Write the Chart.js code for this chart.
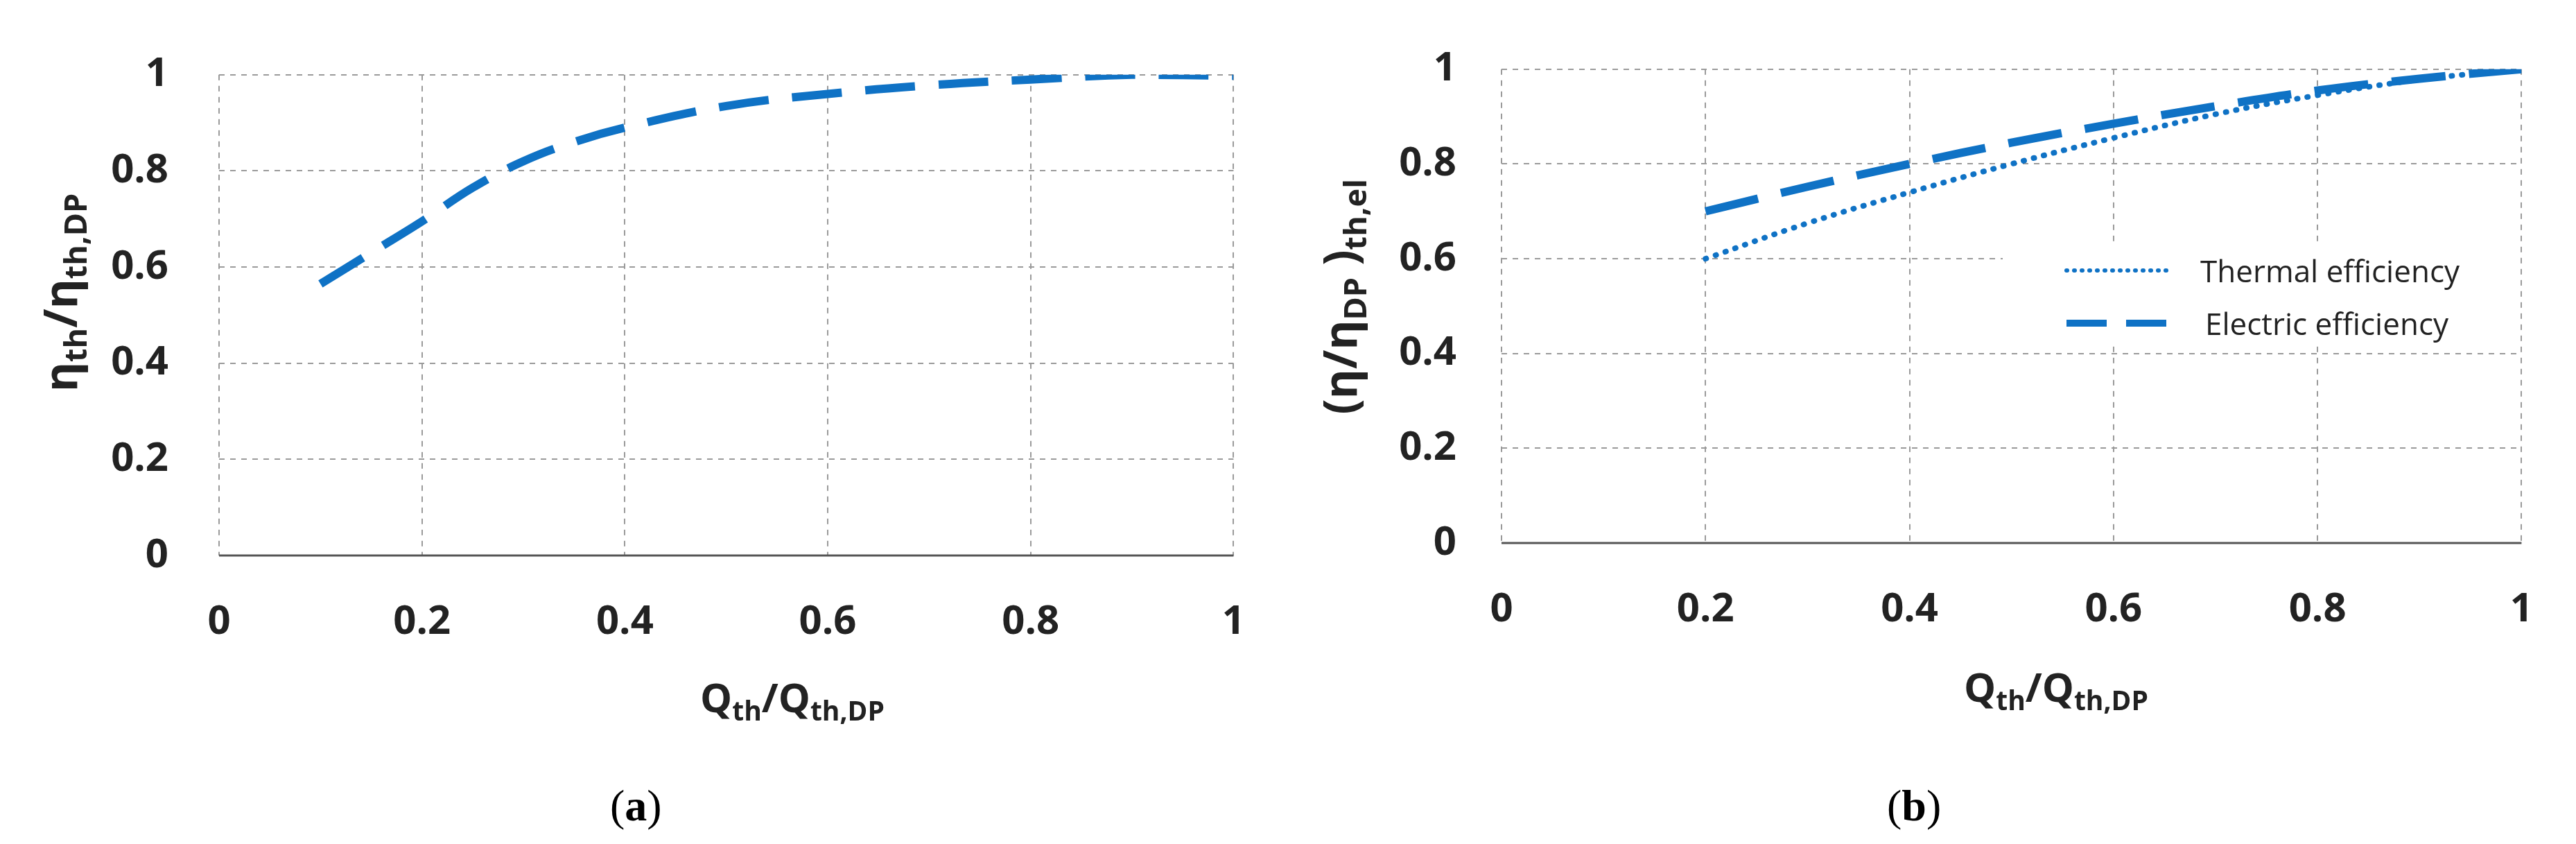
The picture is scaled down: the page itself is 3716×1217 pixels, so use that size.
<!DOCTYPE html>
<html>
<head>
<meta charset="utf-8">
<script src="https://cdn.jsdelivr.net/npm/chart.js@4.4.0/dist/chart.umd.min.js"></script>
<style>
  body { margin: 0; background: #fff; width: 3716px; height: 1217px; position: relative; overflow: hidden; }
  .box { position: absolute; top: 0; width: 1858px; height: 1217px; }
  .cap { position: absolute; top: 1125px; font-family: "Liberation Serif", serif; font-size: 64px; }
</style>
</head>
<body>
<div class="box" style="left:0"><canvas id="ca" width="1858" height="1217"></canvas></div>
<div class="box" style="left:1858px"><canvas id="cb" width="1858" height="1217"></canvas></div>
<div class="cap" style="left:880px">(<b>a</b>)</div>
<div class="cap" style="left:2722px">(<b>b</b>)</div>
<script>
// --- data ---
const xA = [0.1, 0.15, 0.2, 0.25, 0.3, 0.35, 0.4, 0.5, 0.6, 0.7, 0.8, 0.9, 1.0];
const etaA = [0.565, 0.63, 0.695, 0.765, 0.82, 0.86, 0.89, 0.935, 0.96, 0.978, 0.99, 1.0, 0.998];

const xB = [0.2, 0.3, 0.4, 0.5, 0.6, 0.7, 0.8, 0.9, 1.0];
const thermalB = [0.6, 0.675, 0.74, 0.8, 0.855, 0.905, 0.945, 0.978, 1.0];
const electricB = [0.70, 0.752, 0.80, 0.845, 0.885, 0.922, 0.955, 0.98, 1.0];

const ticks = [0, 0.2, 0.4, 0.6, 0.8, 1];
const BLUE = '#0f72c5';
const TICK_FONT = { family: 'Open Sans', weight: 'bold', size: 58 };

// draw text with subscripts: parts = [[text, isSub], ...]
function richText(ctx, parts, cx, cy, size, rotate) {
  ctx.save();
  ctx.translate(cx, cy);
  if (rotate) ctx.rotate(-Math.PI / 2);
  const fontFor = sub => `bold ${sub ? Math.round(size * 0.68) : size}px "Open Sans"`;
  let total = 0;
  parts.forEach(([t, sub]) => { ctx.font = fontFor(sub); total += ctx.measureText(t).width; });
  let x = -total / 2;
  ctx.fillStyle = '#222';
  ctx.textBaseline = 'middle';
  parts.forEach(([t, sub]) => {
    ctx.font = fontFor(sub);
    ctx.fillText(t, x, sub ? size * 0.3 : 0);
    x += ctx.measureText(t).width;
  });
  ctx.restore();
}

function scales(yW, xH, yPad) {
  return {
    x: {
      type: 'linear', min: 0, max: 1,
      afterBuildTicks: s => { s.ticks = ticks.map(v => ({ value: v })); },
      afterFit: s => { s.height = xH; },
      ticks: { font: TICK_FONT, color: '#222', padding: 62, callback: v => String(v) },
      grid: { color: '#9a9a9a', lineWidth: 2, drawTicks: false },
      border: { display: false, dash: [8, 8] }
    },
    y: {
      min: 0, max: 1,
      afterBuildTicks: s => { s.ticks = ticks.map(v => ({ value: v })); },
      afterFit: s => { s.width = yW; },
      ticks: { font: TICK_FONT, color: '#222', padding: yPad, callback: v => String(v) },
      grid: { color: '#9a9a9a', lineWidth: 2, drawTicks: false },
      border: { display: false, dash: [8, 8] }
    }
  };
}

// solid x axis line at y = 0
const axisLine = {
  id: 'axisLine',
  afterDraw(chart) {
    const { ctx, chartArea: a } = chart;
    ctx.save();
    ctx.setLineDash([]);
    ctx.strokeStyle = '#555';
    ctx.lineWidth = 3;
    ctx.beginPath(); ctx.moveTo(a.left, a.bottom); ctx.lineTo(a.right, a.bottom); ctx.stroke();
    ctx.restore();
  }
};

const titlesA = {
  id: 'titlesA',
  afterDraw(chart) {
    const ctx = chart.ctx;
    richText(ctx, [['η', 0], ['th', 1], ['/η', 0], ['th,DP', 1]], 92, 422, 66, true);
    richText(ctx, [['Q', 0], ['th', 1], ['/Q', 0], ['th,DP', 1]], 1143, 1010, 58, false);
  }
};

const titlesB = {
  id: 'titlesB',
  afterDraw(chart) {
    const ctx = chart.ctx;
    richText(ctx, [['(η/η', 0], ['DP', 1], [' )', 0], ['th,el', 1]], 80, 428, 66, true);
    richText(ctx, [['Q', 0], ['th', 1], ['/Q', 0], ['th,DP', 1]], 1108, 995, 58, false);
    // legend box
    const lx = 1031, ly = 352;
    ctx.save();
    ctx.fillStyle = '#fff';
    ctx.fillRect(lx, ly, 745, 140);
    ctx.strokeStyle = BLUE;
    ctx.lineCap = 'round';
    ctx.lineWidth = 6;
    ctx.setLineDash([1, 10]);
    ctx.beginPath(); ctx.moveTo(lx + 92, 390); ctx.lineTo(lx + 240, 390); ctx.stroke();
    ctx.lineCap = 'butt';
    ctx.lineWidth = 10;
    ctx.setLineDash([58, 28]);
    ctx.beginPath(); ctx.moveTo(lx + 92, 466); ctx.lineTo(lx + 240, 466); ctx.stroke();
    ctx.setLineDash([]);
    ctx.fillStyle = '#222';
    ctx.font = '44px "Open Sans"';
    ctx.textBaseline = 'middle';
    ctx.fillText('Thermal efficiency', lx + 285, 394);
    ctx.fillText('Electric efficiency', lx + 292, 470);
    ctx.restore();
  }
};

const common = {
  responsive: false, animation: false,
  plugins: { legend: { display: false }, tooltip: { enabled: false } },
  elements: { point: { radius: 0 } }
};

const optA = Object.assign({}, common, {
  scales: scales(316, 416, 73),
  layout: { padding: { top: 76, right: 18, left: 0, bottom: 0 } }
});

new Chart(document.getElementById('ca'), {
  type: 'line',
  data: { datasets: [{
    data: xA.map((x, i) => ({ x, y: etaA[i] })),
    borderColor: BLUE, borderWidth: 12, borderDash: [72, 34], tension: 0.4, fill: false
  }] },
  options: optA,
  plugins: [axisLine, titlesA]
});

const optB = Object.assign({}, common, {
  scales: scales(308, 434, 65),
  layout: { padding: { top: 65, right: 49, left: 0, bottom: 0 } }
});

new Chart(document.getElementById('cb'), {
  type: 'line',
  data: { datasets: [
    { data: xB.map((x, i) => ({ x, y: thermalB[i] })), borderColor: BLUE, borderWidth: 8,
      borderDash: [1, 14], borderCapStyle: 'round', tension: 0.4, fill: false },
    { data: xB.map((x, i) => ({ x, y: electricB[i] })), borderColor: BLUE, borderWidth: 12,
      borderDash: [78, 34], tension: 0.4, fill: false }
  ] },
  options: optB,
  plugins: [axisLine, titlesB]
});
</script>
</body>
</html>
